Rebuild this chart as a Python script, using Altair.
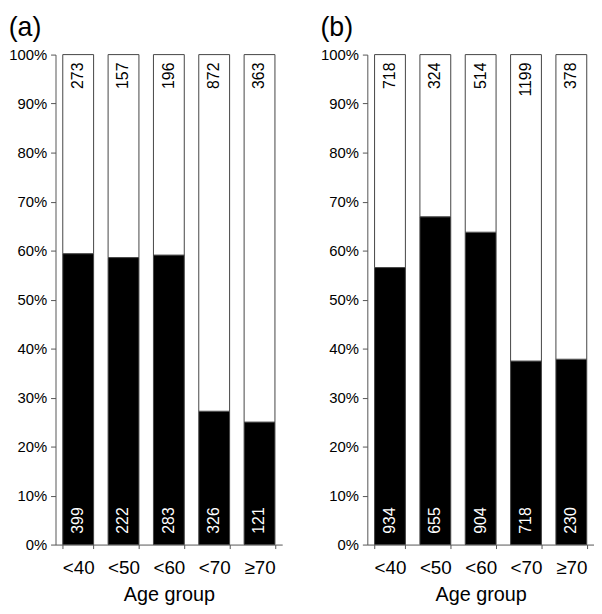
import altair as alt
import pandas as pd

groups = ["<40", "<50", "<60", "<70", "≥70"]
a_yes = [399, 222, 283, 326, 121]
a_no = [273, 157, 196, 872, 363]
b_yes = [934, 655, 904, 718, 230]
b_no = [718, 324, 514, 1199, 378]

FONT = "Liberation Sans"


def panel(title, yes, no):
    df = pd.DataFrame({"group": groups, "yes": yes, "no": no})
    df["frac"] = df["yes"] / (df["yes"] + df["no"])
    df["one"] = 1.0
    df["zero"] = 0.0
    x = alt.X("group:N", sort=groups, title="Age group",
              scale=alt.Scale(paddingInner=0.32, paddingOuter=0.16),
              axis=alt.Axis(labelAngle=0, tickBand="extent", labelFontSize=19,
                            titleFontSize=20, labelPadding=10, titlePadding=8,
                            tickSize=4, domainColor="#555", tickColor="#555",
                            labelColor="black", titleColor="black",
                            titleFontWeight="normal", labelFont=FONT, titleFont=FONT))
    y = alt.Y("zero:Q", title=None,
              scale=alt.Scale(domain=[0, 1], nice=False),
              axis=alt.Axis(format=".0%", values=[i / 10 for i in range(11)],
                            grid=False, labelFontSize=15, labelPadding=4,
                            tickSize=5, domainColor="#555", tickColor="#555",
                            labelColor="black", labelFont=FONT))
    base = alt.Chart(df)
    black = base.mark_bar(color="black", stroke="#444", strokeWidth=1).encode(
        x=x, y=y, y2="frac:Q")
    white = base.mark_bar(color="white", stroke="#444", strokeWidth=1).encode(
        x=x, y="frac:Q", y2="one:Q")
    low = base.mark_text(angle=270, align="left", baseline="middle", dx=11,
                         fontSize=16, color="white", font=FONT).encode(
        x=x, y="zero:Q", text="yes:Q")
    high = base.mark_text(angle=270, align="right", baseline="middle", dx=-8,
                          fontSize=16, color="black", font=FONT).encode(
        x=x, y="one:Q", text="no:Q")
    return alt.layer(black, white, low, high).properties(
        width=229, height=495,
        title=alt.TitleParams(title, anchor="start", fontSize=27, font=FONT,
                              fontWeight="normal", offset=6, frame="bounds"))


chart = alt.hconcat(panel("(a)", a_yes, a_no), panel("(b)", b_yes, b_no),
                    spacing=38).properties(
    padding={"top": 3, "left": 0, "right": 0, "bottom": 0}
).configure_view(stroke=None)

chart.save("out.html", embed_options={"renderer": "svg", "actions": False})
